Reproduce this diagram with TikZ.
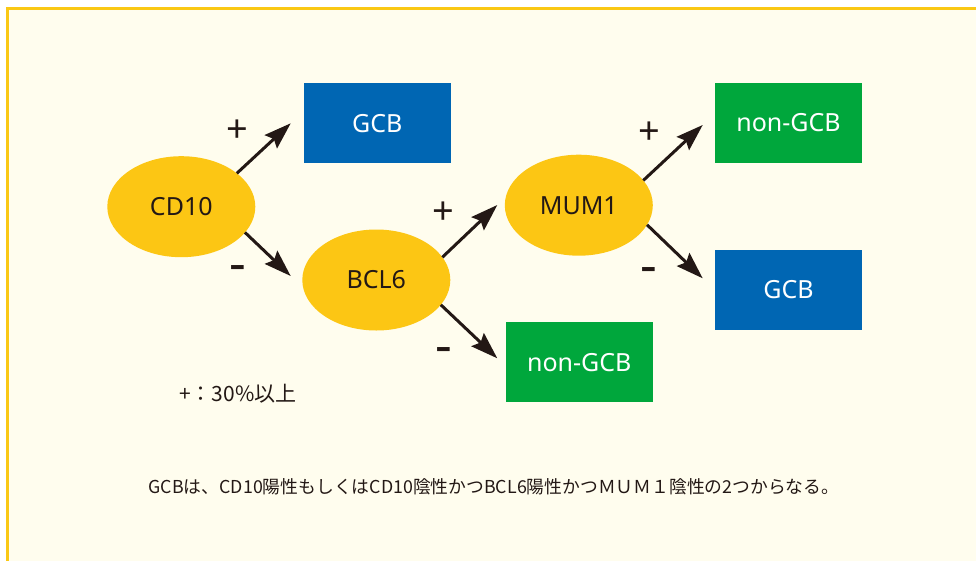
\documentclass[tikz,border=0pt]{standalone}
\usepackage{fontspec}
\setmainfont{Noto Sans}
\newfontfamily\jp{Noto Sans CJK JP}
\usetikzlibrary{arrows.meta,shapes.geometric}
\definecolor{frameY}{RGB}{250,200,20}
\definecolor{bgC}{RGB}{255,253,238}
\definecolor{ellY}{RGB}{252,198,20}
\definecolor{boxB}{RGB}{0,102,179}
\definecolor{boxG}{RGB}{0,167,60}
\definecolor{ink}{RGB}{35,24,21}
\begin{document}
\begin{tikzpicture}[x=1pt,y=-1pt,
  marker/.style={ellipse, fill=ellY, minimum width=148pt, minimum height=101pt,
    inner sep=0pt, outer sep=0pt, text=ink, font=\fontsize{25}{30}\selectfont},
  result/.style={rectangle, minimum width=147pt, minimum height=80pt,
    inner sep=0pt, outer sep=0pt, text=white, font=\fontsize{25}{30}\selectfont},
  gcb/.style={result, fill=boxB},
  ngcb/.style={result, fill=boxG},
  link/.style={draw=ink, line width=3pt, -{Stealth[length=27pt,width=18pt,inset=4pt]}},
  plussign/.style={text=ink, inner sep=0pt, font=\fontsize{38}{40}\selectfont},
  minussign/.style={text=ink, inner sep=0pt, font=\fontsize{52}{56}\selectfont}]
\useasboundingbox (0,0) rectangle (976,560);
\fill[white] (0,0) rectangle (976,560);
\begin{scope}
  \clip (0,0) rectangle (976,560);
  \draw[frameY, line width=2.7pt, fill=bgC] (7.2,8.7) rectangle (990,575);
\end{scope}

\node[marker] (cd10) at (181.3,206.7) {CD10};
\node[marker] (bcl6) at (376.3,280) {BCL6};
\node[marker] (mum1) at (578.8,205.2) {MUM1};
\node[gcb]  (gcb1)  at (377.3,123.3) {GCB};
\node[ngcb] (ngcb1) at (579.3,362.3) {non-GCB};
\node[ngcb] (ngcb2) at (788.5,123) {non-GCB};
\node[gcb]  (gcb2)  at (788.5,290) {GCB};

\coordinate (t1) at (290.7,123.3);
\coordinate (t2) at (290.7,276);
\coordinate (t3) at (497.3,205);
\coordinate (t4) at (497.3,358.3);
\coordinate (t5) at (702.7,125);
\coordinate (t6) at (702.7,278.3);

\draw[link] (cd10.31) -- (t1);
\draw[link] (cd10.-22) -- (t2);
\draw[link] (bcl6.19) -- (t3);
\draw[link] (bcl6.-21) -- (t4);
\draw[link] (mum1.21) -- (t5);
\draw[link] (mum1.-16) -- (t6);

\node[plussign] (p1) at (237.3,130.7) {+};
\node[minussign] (m1) at (238,274) {-};
\node[plussign] (p2) at (443.7,212.8) {+};
\node[minussign] (m2) at (444,356) {-};
\node[plussign] (p3) at (649.5,132.8) {+};
\node[minussign] (m3) at (649,276) {-};

\node[text=ink, inner sep=0pt, font=\jp\fontsize{21}{24}\selectfont] (legend) at (237.8,393.7) {+：30\%以上};
\node[text=ink, inner sep=0pt, font=\jp\fontsize{17.8}{20}\selectfont] (note) at (494,487)
  {GCBは、CD10陽性もしくはCD10陰性かつBCL6陽性かつＭＵＭ１陰性の2つからなる。};
\end{tikzpicture}
\end{document}
